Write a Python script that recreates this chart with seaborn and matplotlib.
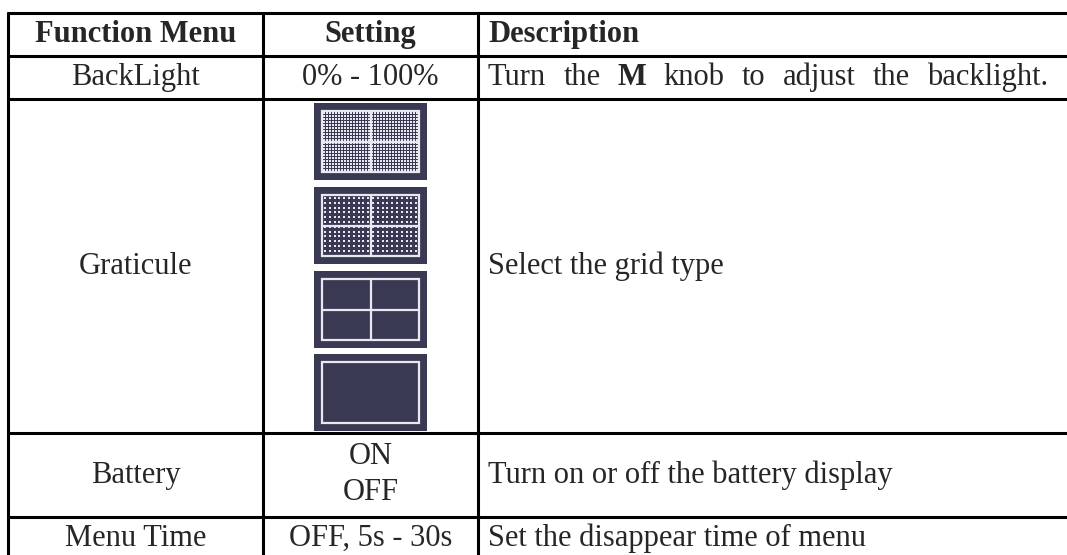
import numpy as np
import matplotlib
matplotlib.use("Agg")
import matplotlib.pyplot as plt
import seaborn as sns
from matplotlib.patches import Rectangle

# Conteudo da tabela
cabecalho = ["Function Menu", "Setting", "Description"]
menus = ["BackLight", "Graticule", "Battery", "Menu Time"]
ajustes = [["0% - 100%"], [], ["ON", "OFF"], ["OFF, 5s - 30s"]]
descricoes = [
    [("Turn", "normal"), ("the", "normal"), ("M", "bold"), ("knob", "normal"),
     ("to", "normal"), ("adjust", "normal"), ("the", "normal"), ("backlight.", "normal")],
    [("Select the grid type", "normal")],
    [("Turn on or off the battery display", "normal")],
    [("Set the disappear time of menu", "normal")],
]
justificado = [True, False, False, False]
tipos_grade = ["dense", "dots", "cross", "frame"]

# Layout em pixels
W, H = 1067, 555
col_x = [8, 263, 478, 1067]
row_y = [13, 56, 99, 433, 517, 559]
icone_w, icone_h = 113, 77
icone_y = [103, 187, 271, 354]
margem_txt = 10
fim_justificado = 1048
passo_linha = 36

AZUL = "#3a3953"
CLARO = "#e8e8f0"
FONTE = 22

sns.set_style("white")
plt.rcParams['font.family'] = ['Liberation Serif', 'DejaVu Serif']

fig = plt.figure(figsize=(W / 100, H / 100), dpi=100)
ax = fig.add_axes([0, 0, 1, 1])
ax.set_xlim(0, W)
ax.set_ylim(H, 0)
ax.axis("off")
renderer = fig.canvas.get_renderer()


def desenhar_icone(ax, x0, y0, tipo):
    """Desenha o icone de grade do osciloscopio"""
    ax.add_patch(Rectangle((x0, y0), icone_w, icone_h, color=AZUL, lw=0))
    m = 8
    ix0, iy0 = x0 + m, y0 + m
    iw, ih = icone_w - 2 * m, icone_h - 2 * m
    if tipo == "dense":
        xs = np.arange(ix0 + 2, ix0 + iw - 1, 3.0)
        ys = np.arange(iy0 + 2, iy0 + ih - 1, 3.0)
        gx, gy = np.meshgrid(xs, ys)
        sns.scatterplot(x=gx.ravel(), y=gy.ravel(), marker="s", s=3.0, color=CLARO,
                        linewidth=0, ax=ax, legend=False)
    elif tipo == "dots":
        xs = np.arange(ix0 + 3, ix0 + iw - 2, 4.8)
        ys = np.arange(iy0 + 3, iy0 + ih - 2, 4.8)
        gx, gy = np.meshgrid(xs, ys)
        sns.scatterplot(x=gx.ravel(), y=gy.ravel(), marker="s", s=1.2, color=CLARO,
                        linewidth=0, ax=ax, legend=False)
    ax.add_patch(Rectangle((ix0, iy0), iw, ih, fill=False, ec=CLARO, lw=1.6))
    if tipo != "frame":
        ax.plot([ix0 + iw / 2, ix0 + iw / 2], [iy0, iy0 + ih], color=CLARO, lw=1.6)
        ax.plot([ix0, ix0 + iw], [iy0 + ih / 2, iy0 + ih / 2], color=CLARO, lw=1.6)


# Linhas da tabela
for y in row_y[:-1]:
    ax.plot([col_x[0] - 1, col_x[-1]], [y, y], color="black", lw=2.2, solid_capstyle="butt")
for x in col_x[:-1]:
    ax.plot([x, x], [row_y[0] - 1, H], color="black", lw=2.2, solid_capstyle="butt")

# Cabecalho
yc = (row_y[0] + row_y[1]) / 2
for i, titulo in enumerate(cabecalho):
    if i < 2:
        ax.text((col_x[i] + col_x[i + 1]) / 2, yc, titulo, ha="center", va="center",
                fontsize=FONTE, fontweight="bold")
    else:
        ax.text(col_x[i] + margem_txt, yc, titulo, ha="left", va="center",
                fontsize=FONTE, fontweight="bold")

for r, menu in enumerate(menus):
    yc = (row_y[r + 1] + row_y[r + 2]) / 2
    ax.text((col_x[0] + col_x[1]) / 2, yc, menu, ha="center", va="center", fontsize=FONTE)
    linhas = ajustes[r]
    n = len(linhas)
    for k, linha in enumerate(linhas):
        ax.text((col_x[1] + col_x[2]) / 2, yc + (k - (n - 1) / 2) * passo_linha, linha,
                ha="center", va="center", fontsize=FONTE)
    x0 = col_x[2] + margem_txt
    textos = [ax.text(x0, yc, p, ha="left", va="center", fontsize=FONTE, fontweight=w)
              for p, w in descricoes[r]]
    if justificado[r] and len(textos) > 1:
        larguras = [t.get_window_extent(renderer).width for t in textos]
        espaco = (fim_justificado - x0 - sum(larguras)) / (len(textos) - 1)
        x = x0
        for t, lw in zip(textos, larguras):
            t.set_x(x)
            x += lw + espaco

for y0, tipo in zip(icone_y, tipos_grade):
    xc = (col_x[1] + col_x[2]) / 2
    desenhar_icone(ax, xc - icone_w / 2, y0, tipo)

fig.savefig("out.png", dpi=100)
